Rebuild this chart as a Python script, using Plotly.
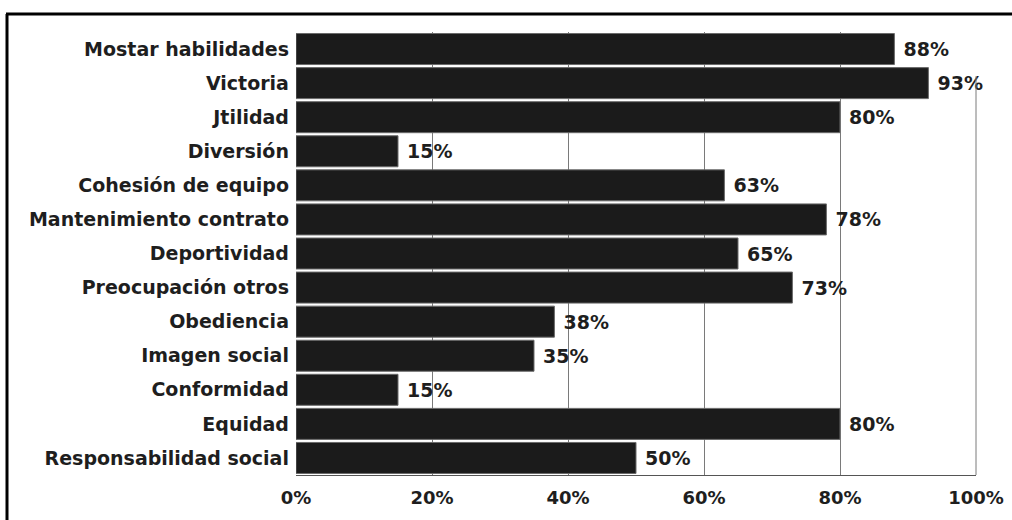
import plotly.graph_objects as go

categories = ["Mostar habilidades", "Victoria", "Jtilidad", "Diversión", "Cohesión de equipo",
              "Mantenimiento contrato", "Deportividad", "Preocupación otros", "Obediencia",
              "Imagen social", "Conformidad", "Equidad", "Responsabilidad social"]
values = [88, 93, 80, 15, 63, 78, 65, 73, 38, 35, 15, 80, 50]
tick_vals = [0, 20, 40, 60, 80, 100]
tick_text = ["0%", "20%", "40%", "60%", "80%", "100%"]

font_fam = "DejaVu Sans, Liberation Sans, Arial, sans-serif"
txt_color = "#1e1e1e"

fig = go.Figure(go.Bar(
    y=categories, x=values, orientation="h",
    marker=dict(color="#1b1b1b", line=dict(color="#6a6a6a", width=1)),
    text=[f"\u00a0<b>{v}%</b>" for v in values], textposition="outside",
    textfont=dict(family=font_fam, size=19, color=txt_color),
    cliponaxis=False,
))

W, H = 1012, 520
L, R, T, B = 296, 36, 32, 45
pw, ph = W - L - R, H - T - B

fig.update_layout(
    width=W, height=H,
    margin=dict(l=L, r=R, t=T, b=B, autoexpand=False),
    paper_bgcolor="white", plot_bgcolor="white",
    showlegend=False, bargap=0.09,
    xaxis=dict(range=[0, 100], tickvals=tick_vals, ticktext=[f"<b>{t}</b>" for t in tick_text],
               showgrid=True, gridcolor="#7a7a7a", gridwidth=1, automargin=False,
               showline=True, linecolor="#555555", linewidth=1, mirror=False,
               ticks="", zeroline=False, ticklabelstandoff=6,
               tickfont=dict(family=font_fam, size=18, color=txt_color)),
    yaxis=dict(autorange="reversed", ticks="", showline=False, automargin=False,
               tickprefix="<b>", ticksuffix="</b> ",
               tickfont=dict(family=font_fam, size=19, color=txt_color)),
    shapes=[
        dict(type="line", xref="paper", yref="paper", x0=1, x1=1, y0=0, y1=0.9,
             line=dict(color="#7a7a7a", width=1)),
        dict(type="line", xref="paper", yref="paper",
             x0=-(L - 6) / pw, x1=(W - L) / pw, y0=1 + 18 / ph, y1=1 + 18 / ph,
             line=dict(color="black", width=3)),
        dict(type="line", xref="paper", yref="paper",
             x0=-(L - 7) / pw, x1=-(L - 7) / pw, y0=1 + 18 / ph, y1=-B / ph,
             line=dict(color="black", width=3)),
    ],
)

fig.write_html("out.html", config={"displayModeBar": False},
               post_script="document.body.style.margin='0';")
